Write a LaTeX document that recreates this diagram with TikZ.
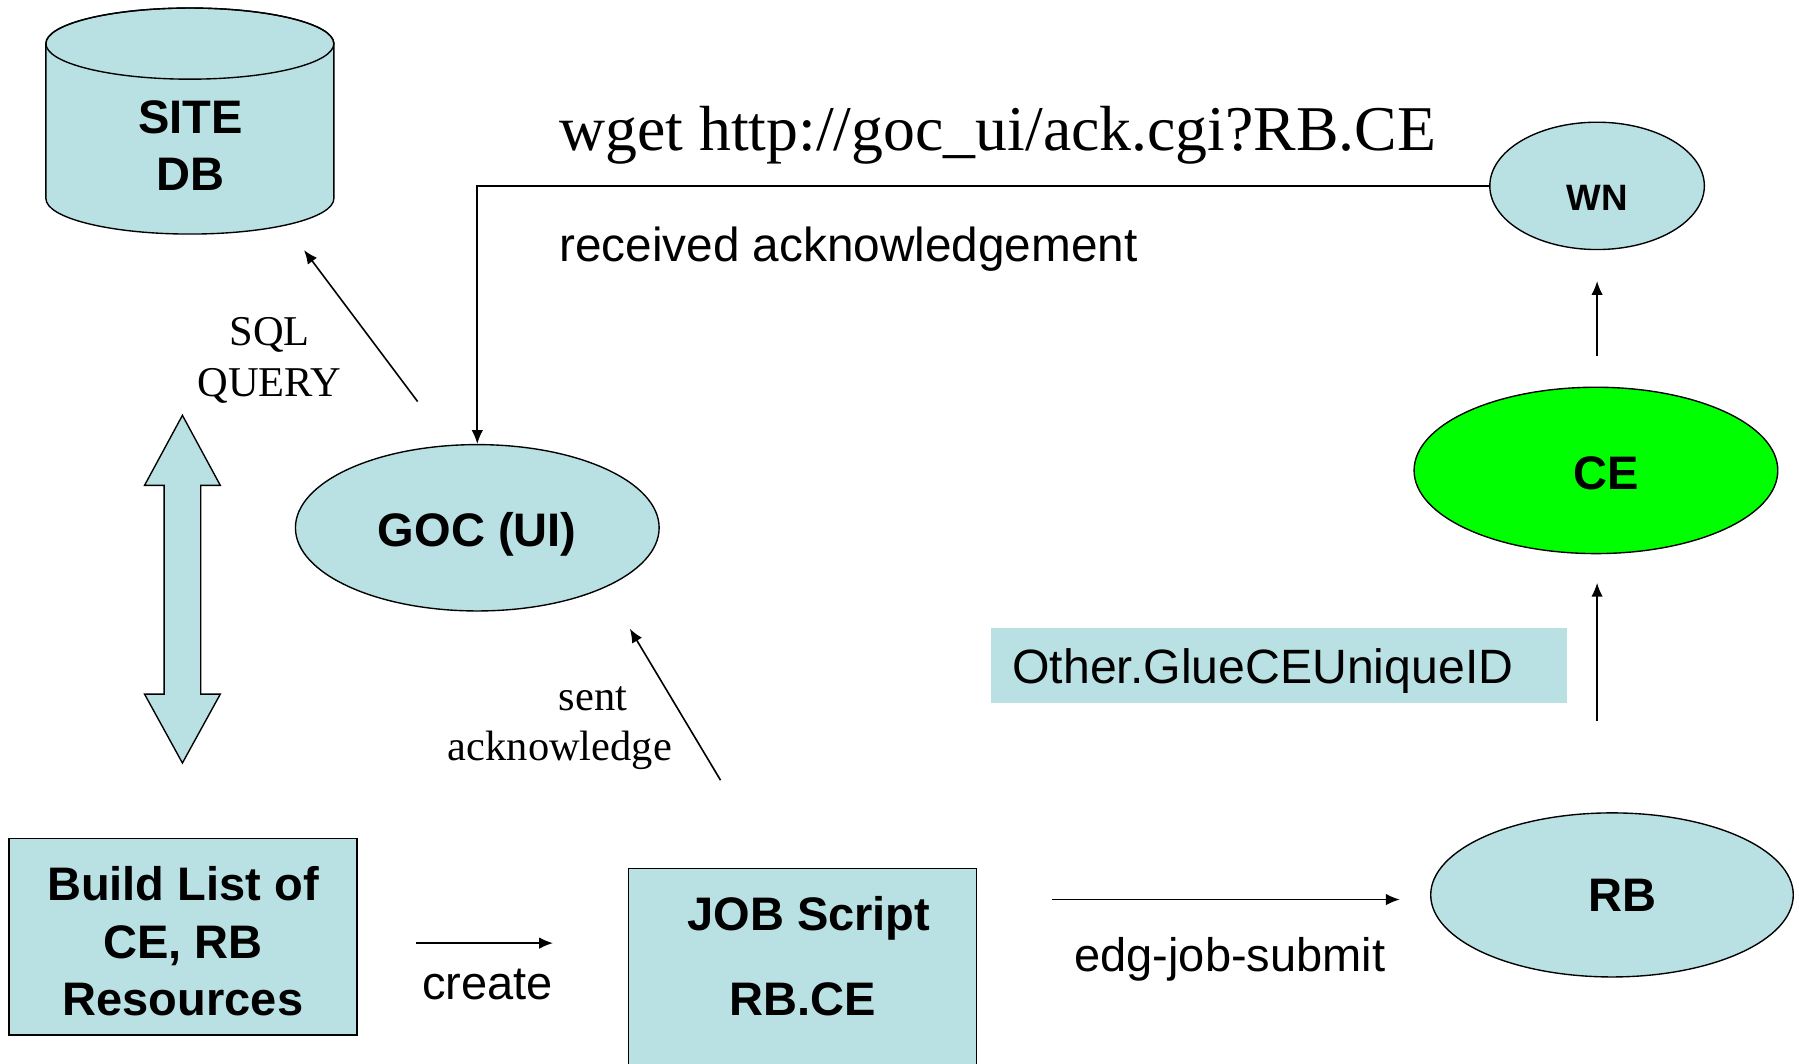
\documentclass[tikz,border=0pt]{standalone}
\usepackage{fontspec}
\setmainfont{Liberation Serif}
\setsansfont{Liberation Sans}
\usetikzlibrary{arrows.meta,shapes.geometric}
\definecolor{paleblue}{RGB}{185,224,227}
\definecolor{cegreen}{RGB}{0,255,0}

\begin{document}
\begin{tikzpicture}[x=0.5pt,y=-0.5pt,
  outline/.style={draw=black,line width=0.6pt},
  blob/.style={ellipse,outline,fill=paleblue,inner sep=0pt},
  box/.style={rectangle,outline,fill=paleblue,inner sep=0pt},
  heavy/.style={font=\sffamily\bfseries\fontsize{20.5}{25}\selectfont,align=center,inner sep=0pt},
  plain/.style={font=\sffamily\fontsize{20.5}{25}\selectfont,inner sep=0pt},
  serif/.style={font=\rmfamily\fontsize{18.5}{22}\selectfont,inner sep=0pt},
  flow/.style={line width=0.7pt,-{Latex[length=6pt,width=5pt]}}]

\clip (0,0) rectangle (1568,927);

% site database cylinder
\path[fill=paleblue,outline] (40,38) -- (40,173)
  arc[start angle=180,end angle=0,x radius=125.5,y radius=31]
  -- (291,38)
  arc[start angle=0,end angle=-180,x radius=125.5,y radius=31] -- cycle;
\draw[outline] (165.5,38) ellipse[x radius=125.5,y radius=31];
\node[heavy] (sitedb) at (166,127) {SITE\\DB};

% two-way exchange arrow
\path[fill=paleblue,outline] (159,362) -- (192,423) -- (175,423) -- (175,605)
  -- (192,605) -- (159,665) -- (126,605) -- (143,605) -- (143,423)
  -- (126,423) -- cycle;

% ellipses (labels set on a zero-size box so they sit where wanted)
\node[blob,minimum width=158.5pt,minimum height=72.5pt,heavy] (goc) at (416,460)
  {\raisebox{-8.3pt}[0pt][0pt]{GOC (UI)}};
\node[blob,minimum width=93.5pt,minimum height=55.5pt,heavy,font=\sffamily\bfseries\fontsize{16}{18}\selectfont] (wn) at (1392,162)
  {\raisebox{-10.7pt}[0pt][0pt]{WN}};
\node[blob,fill=cegreen,minimum width=158.5pt,minimum height=72.5pt,heavy] (ce) at (1391,410)
  {\raisebox{-8.3pt}[0pt][0pt]{\hspace*{9pt}CE}};
\node[blob,minimum width=158pt,minimum height=71.5pt,heavy] (rb) at (1405,780)
  {\raisebox{-7.3pt}[0pt][0pt]{\hspace*{9pt}RB}};

% boxes
\node[box,minimum width=151.5pt,minimum height=85.5pt] (build) at (159.5,816.5) {};
\node[heavy] (buildtext) at (159.5,820.5) {Build List of\\CE, RB\\Resources};
\node[box,minimum width=151.5pt,minimum height=95pt] (job) at (699.5,852) {};
\node[heavy] (jobtitle) at (705,800) {JOB Script};
\node[heavy] (jobname) at (700,871) {RB.CE};
\node[rectangle,fill=paleblue,minimum width=251pt,minimum height=33pt,inner sep=0pt] (idbox) at (1115,580) {};
\node[plain,font=\sffamily\fontsize{21}{25}\selectfont,anchor=west] (idtext) at (882,585) {Other.GlueCEUniqueID};

% acknowledgement path from the worker node back to the UI
\draw[flow] (wn.west) -| (goc.north);
\node[serif,font=\rmfamily\fontsize{27.8}{30}\selectfont,anchor=base west] (wget) at (487,131) {wget http://goc\_ui/ack.cgi?RB.CE};
\node[plain,font=\sffamily\fontsize{20.8}{25}\selectfont,anchor=base west] (recv) at (487,228) {received acknowledgement};

% free-standing arrows
\coordinate (sqlfrom) at (364,350);
\coordinate (sqlto) at (265,218);
\draw[flow] (sqlfrom) -- (sqlto);
\node[serif,font=\rmfamily\fontsize{18.5}{22.5}\selectfont,align=center] (sql) at (235,314) {SQL\\QUERY};

\coordinate (sentfrom) at (628,680);
\coordinate (sentto) at (549,548);
\draw[flow] (sentfrom) -- (sentto);
\node[serif] (sent) at (517,609) {sent};
\node[serif] (ackn) at (488,654) {acknowledge};

\coordinate (createfrom) at (363,822);
\coordinate (createto) at (482,822);
\draw[flow] (createfrom) -- (createto);
\node[plain] (create) at (425,858) {create};

\coordinate (submitfrom) at (917,784);
\coordinate (submitto) at (1220,784);
\draw[flow] (submitfrom) -- (submitto);
\node[plain] (submit) at (1072,836) {edg-job-submit};

\coordinate (wnfrom) at (1392,310);
\coordinate (wnto) at (1392,245);
\draw[flow] (wnfrom) -- (wnto);

\coordinate (cefrom) at (1392,628);
\coordinate (ceto) at (1392,508);
\draw[flow] (cefrom) -- (ceto);
\end{tikzpicture}
\end{document}
